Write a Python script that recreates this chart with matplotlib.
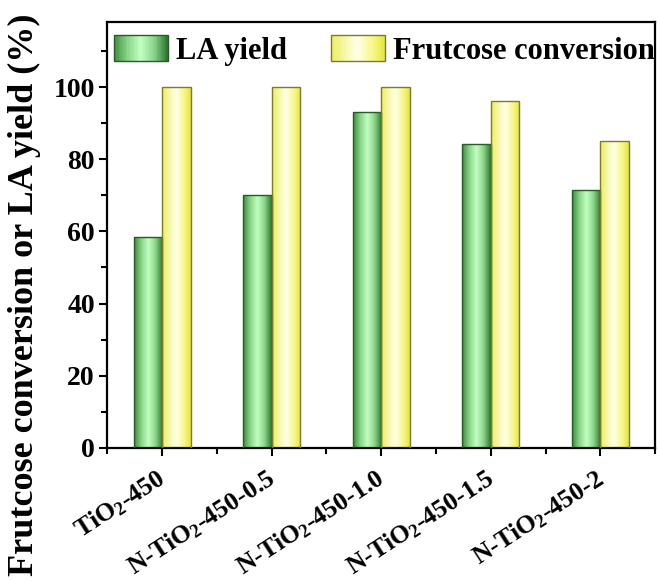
import numpy as np
import matplotlib
matplotlib.use("Agg")
import matplotlib.pyplot as plt
import matplotlib.transforms as mtransforms
from matplotlib.colors import LinearSegmentedColormap
from matplotlib.legend_handler import HandlerBase
from matplotlib.patches import Rectangle, Patch
from matplotlib.ticker import MultipleLocator

plt.rcParams["font.family"] = "Liberation Serif"
plt.rcParams["font.weight"] = "bold"
plt.rcParams["mathtext.fontset"] = "custom"
plt.rcParams["mathtext.rm"] = "Liberation Serif:bold"
plt.rcParams["mathtext.it"] = "Liberation Serif:bold"
plt.rcParams["mathtext.bf"] = "Liberation Serif:bold"

categories = ["TiO$_2$-450", "N-TiO$_2$-450-0.5", "N-TiO$_2$-450-1.0",
              "N-TiO$_2$-450-1.5", "N-TiO$_2$-450-2"]
la_yield = [58.5, 70.2, 93.2, 84.1, 71.5]
fructose_conv = [100.0, 100.0, 100.0, 96.0, 85.0]

green_cmap = LinearSegmentedColormap.from_list(
    "green_bar", [(0.0, "#3a8a3a"), (0.25, "#88d488"), (0.5, "#c2ffc2"),
                  (0.75, "#8ad48a"), (1.0, "#2c752c")])
yellow_cmap = LinearSegmentedColormap.from_list(
    "yellow_bar", [(0.0, "#eded5a"), (0.35, "#fbfbc8"), (0.5, "#ffffe6"),
                   (0.8, "#f6f680"), (1.0, "#e4e43c")])
green_edge = "#2a5a2a"
yellow_edge = "#7a7a30"

grad = np.linspace(0, 1, 256).reshape(1, -1)


class GradientHandler(HandlerBase):
    def __init__(self, cmap, edge, n=40):
        super().__init__()
        self.cmap, self.edge, self.n = cmap, edge, n

    def create_artists(self, legend, orig_handle, xdescent, ydescent,
                       width, height, fontsize, trans):
        arts = []
        step = width / self.n
        for i in range(self.n):
            r = Rectangle((-xdescent + i * step, -ydescent), step * 1.05, height,
                          facecolor=self.cmap((i + 0.5) / self.n),
                          edgecolor="none", transform=trans)
            arts.append(r)
        arts.append(Rectangle((-xdescent, -ydescent), width, height,
                              facecolor="none", edgecolor=self.edge, lw=1.0,
                              transform=trans))
        return arts


fig = plt.figure(figsize=(6.59, 5.81), dpi=100)
ax = fig.add_axes([0.163, 0.229, 0.831, 0.733])

x = np.arange(len(categories))
w = 0.26

bars_g = ax.bar(x - w / 2, la_yield, w, facecolor="none", edgecolor=green_edge,
                linewidth=1.0, zorder=3)
bars_y = ax.bar(x + w / 2, fructose_conv, w, facecolor="none",
                edgecolor=yellow_edge, linewidth=1.0, zorder=3)

for bars, cmap in ((bars_g, green_cmap), (bars_y, yellow_cmap)):
    for b in bars:
        x0, y0 = b.get_x(), b.get_y()
        im = ax.imshow(grad, extent=[x0, x0 + b.get_width(), y0, y0 + b.get_height()],
                       aspect="auto", cmap=cmap, interpolation="bicubic", zorder=2)
        im.set_clip_path(b)

ax.set_xlim(-0.5, 4.5)
ax.set_ylim(0, 118)

ax.xaxis.set_minor_locator(MultipleLocator(0.5))
ax.yaxis.set_major_locator(MultipleLocator(20))
ax.yaxis.set_minor_locator(MultipleLocator(10))
ax.tick_params(axis="both", which="major", direction="out", length=6, width=1.5)
ax.tick_params(axis="y", which="major", labelsize=20, pad=3)
ax.tick_params(axis="x", which="major", pad=7)
ax.tick_params(axis="both", which="minor", direction="out", length=4, width=1.5)

ax.set_xticks(x)
ax.set_xticklabels(categories, rotation=33, ha="right", rotation_mode="anchor",
                   fontsize=18.5, fontweight="bold")
shift = mtransforms.ScaledTranslation(-0.06, 0.0, fig.dpi_scale_trans)
for lab in ax.get_xticklabels():
    lab.set_transform(lab.get_transform() + shift)
for lab in ax.get_yticklabels():
    lab.set_fontweight("bold")
for s in ax.spines.values():
    s.set_linewidth(1.6)

ax.set_ylabel("Frutcose conversion or LA yield (%)", fontsize=26,
              fontweight="bold")
ax.yaxis.set_label_coords(-0.121, 0.36)

h_g = Patch(label="LA yield")
h_y = Patch(label="Frutcose conversion")
ax.legend(handles=[h_g, h_y], ncol=2, loc="upper left", frameon=False,
          bbox_to_anchor=(-0.022, 1.0125), handlelength=1.77,
          handleheight=0.95, handletextpad=0.26, columnspacing=1.45,
          borderaxespad=0.2,
          handler_map={h_g: GradientHandler(green_cmap, green_edge),
                       h_y: GradientHandler(yellow_cmap, yellow_edge)},
          prop={"weight": "bold", "size": 22})

fig.savefig("out.png", dpi=100)
